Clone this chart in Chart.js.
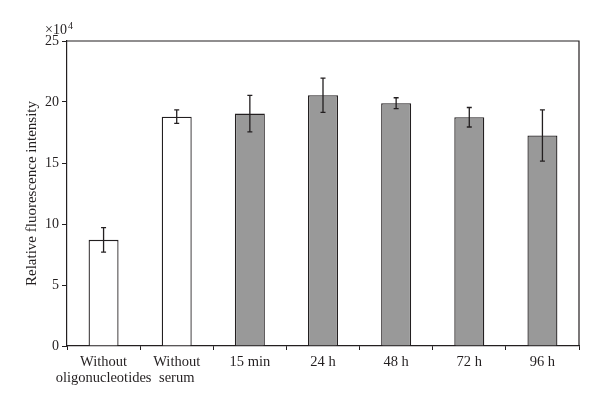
<!DOCTYPE html>
<html lang="en">
<head>
  <meta charset="UTF-8" />
  <title>Relative fluorescence intensity</title>
  <script src="https://cdn.jsdelivr.net/npm/chart.js"></script>
  <style>
    html, body { margin: 0; padding: 0; background: #fff; }
    #wrap { width: 600px; height: 404px; position: relative; }
  </style>
</head>
<body>
  <div id="wrap"><canvas id="fluoChart"></canvas></div>

  <script>
    // values in units of 10^4
    const categories = [["Without", "oligonucleotides"], ["Without", "serum"], "15 min", "24 h", "48 h", "72 h", "96 h"];
    const intensity = [8.7, 18.8, 19.05, 20.55, 19.9, 18.75, 17.25];
    const errors = [1.0, 0.55, 1.5, 1.4, 0.45, 0.8, 2.1];
    const barFills = ["#ffffff", "#ffffff", "#999999", "#999999", "#999999", "#999999", "#999999"];
    const yTicks = [0, 5, 10, 15, 20, 25];

    const ink = "#231f20";
    const serif = "'Liberation Serif', 'DejaVu Serif', serif";

    // error bars + frame + x10^4 label
    const extras = {
      id: "extras",
      afterDatasetsDraw(chart) {
        const { ctx, chartArea, scales } = chart;
        const meta = chart.getDatasetMeta(0);
        ctx.save();
        ctx.strokeStyle = ink;
        ctx.lineWidth = 1.3;
        meta.data.forEach((bar, i) => {
          const x = bar.x;
          const top = scales.y.getPixelForValue(intensity[i] + errors[i]);
          const bot = scales.y.getPixelForValue(intensity[i] - errors[i]);
          ctx.beginPath();
          ctx.moveTo(x, top); ctx.lineTo(x, bot);
          ctx.moveTo(x - 2.5, top); ctx.lineTo(x + 2.5, top);
          ctx.moveTo(x - 2.5, bot); ctx.lineTo(x + 2.5, bot);
          ctx.stroke();
        });
        // top and right frame lines
        ctx.lineWidth = 1.2;
        ctx.beginPath();
        ctx.moveTo(chartArea.left, chartArea.top);
        ctx.lineTo(chartArea.right, chartArea.top);
        ctx.lineTo(chartArea.right, chartArea.bottom);
        ctx.stroke();

        ctx.fillStyle = ink;
        ctx.font = "14px " + serif;
        ctx.textBaseline = "alphabetic";
        ctx.fillText("\u00d710", 45, 34);
        ctx.font = "10px " + serif;
        ctx.fillText("4", 68, 29);
        ctx.restore();
      }
    };

    new Chart(document.getElementById("fluoChart"), {
      type: "bar",
      data: {
        labels: categories,
        datasets: [{
          data: intensity,
          backgroundColor: barFills,
          borderColor: ink,
          borderWidth: 1.3,
          barPercentage: 0.41,
          categoryPercentage: 1.0
        }]
      },
      options: {
        responsive: true,
        maintainAspectRatio: false,
        animation: false,
        layout: { padding: { top: 41, right: 21, left: 0, bottom: 0 } },
        plugins: { legend: { display: false }, tooltip: { enabled: false } },
        scales: {
          x: {
            grid: { display: true, drawOnChartArea: false, drawTicks: true, tickLength: 4, color: ink, offset: true },
            border: { display: true, color: ink, width: 1.2 },
            ticks: { color: ink, font: { family: serif, size: 14.5, lineHeight: 1.1 }, padding: 4, maxRotation: 0, autoSkip: false },
            afterFit(axis) { axis.height = 58; }
          },
          y: {
            min: 0,
            max: 25,
            afterBuildTicks(axis) { axis.ticks = yTicks.map(v => ({ value: v })); },
            grid: { display: true, drawOnChartArea: false, drawTicks: true, tickLength: 5, color: ink },
            border: { display: true, color: ink, width: 1.2 },
            ticks: { color: ink, font: { family: serif, size: 14 }, padding: 3 },
            title: { display: true, text: "Relative fluorescence intensity", color: ink, font: { family: serif, size: 15 }, padding: { top: 23, bottom: 0 } },
            afterFit(axis) { axis.width = 67; }
          }
        }
      },
      plugins: [extras]
    });
  </script>
</body>
</html>
